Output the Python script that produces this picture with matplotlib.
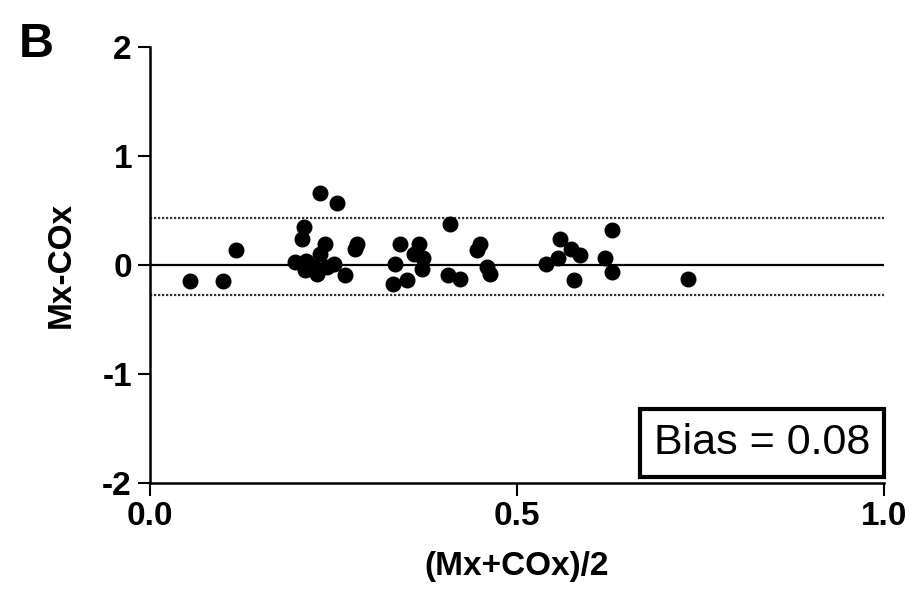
import numpy as np
import matplotlib.pyplot as plt

plt.rcParams['font.family'] = ['Liberation Sans', 'DejaVu Sans']

# Bland-Altman data: mean of the two methods vs their difference
mean_vals = [0.055, 0.100, 0.117, 0.231, 0.255, 0.210, 0.207, 0.238, 0.232,
             0.282, 0.279, 0.198, 0.213, 0.223, 0.211, 0.227, 0.250, 0.266,
             0.241, 0.341, 0.366, 0.359, 0.372, 0.334, 0.370, 0.331, 0.350,
             0.409, 0.406, 0.422, 0.450, 0.445, 0.459, 0.463, 0.559, 0.574,
             0.586, 0.540, 0.556, 0.577, 0.629, 0.620, 0.629, 0.733]
diff_vals = [-0.15, -0.15, 0.135, 0.665, 0.565, 0.35, 0.24, 0.195, 0.105,
             0.195, 0.15, 0.03, 0.04, -0.02, -0.05, -0.08, 0.01, -0.095,
             -0.02, 0.195, 0.195, 0.105, 0.06, 0.01, -0.035, -0.17, -0.14,
             0.38, -0.095, -0.125, 0.195, 0.135, -0.02, -0.08, 0.24, 0.15,
             0.09, 0.01, 0.06, -0.14, 0.32, 0.06, -0.065, -0.13]

bias = 0.08
lower_loa = -0.275
upper_loa = 0.435

fig = plt.figure(figsize=(9.22, 5.99), dpi=100)
ax = fig.add_axes([0.1627, 0.1937, 0.7961, 0.7278])

ax.axhline(0, color='black', lw=1.6, zorder=1)
ax.axhline(upper_loa, color='#333333', lw=1.6, ls=(0, (1, 0.8)), zorder=1)
ax.axhline(lower_loa, color='#333333', lw=1.6, ls=(0, (1, 0.8)), zorder=1)
ax.scatter(mean_vals, diff_vals, s=110, color='black', zorder=3)

ax.set_xlim(0, 1)
ax.set_ylim(-2, 2)
ax.set_xticks([0, 0.5, 1.0])
ax.set_xticklabels(['0.0', '0.5', '1.0'])
ax.set_yticks([-2, -1, 0, 1, 2])
ax.set_yticklabels(['-2', '-1', '0', '1', '2'])
for side in ['top', 'right']:
    ax.spines[side].set_visible(False)
for side in ['left', 'bottom']:
    ax.spines[side].set_linewidth(1.8)
ax.tick_params(width=1.5, length=9, labelsize=24, pad=4)
for lab in ax.get_xticklabels() + ax.get_yticklabels():
    lab.set_fontweight('bold')

ax.set_xlabel('(Mx+COx)/2', fontsize=24, fontweight='bold', labelpad=14)
ax.set_ylabel('Mx-COx', fontsize=24, fontweight='bold', labelpad=18)

ax.text(0.981, 0.046, 'Bias = %.2f' % bias, transform=ax.transAxes,
        ha='right', va='bottom', fontsize=31,
        bbox=dict(boxstyle='square,pad=0.32', facecolor='white',
                  edgecolor='black', linewidth=3))

fig.text(0.02, 0.905, 'B', fontsize=35, fontweight='bold')

fig.savefig('out.png', dpi=100)
